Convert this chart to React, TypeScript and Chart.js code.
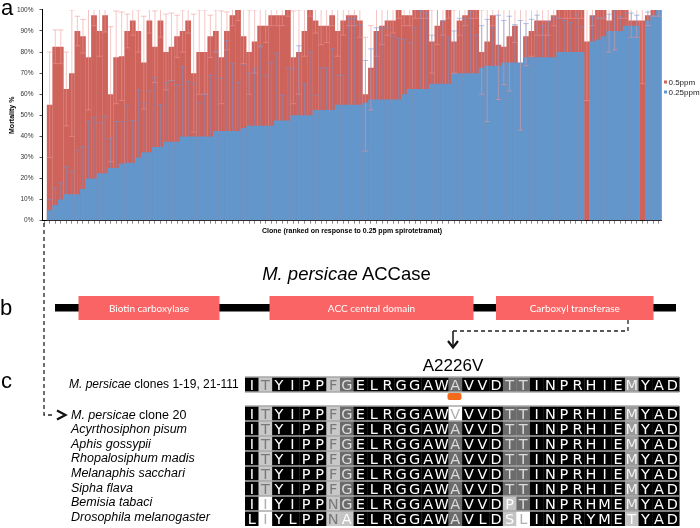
import React, { useEffect, useRef } from 'react';
import { Chart, registerables } from 'chart.js';

Chart.register(...registerables);

// ---------- DATA ----------
// clone rank (1..111), ranked on response to 0.25 ppm
const cloneRank: number[] = Array.from({ length: 111 }, (_, i) => i + 1);

// mortality % at 0.25 ppm (blue)
const mort025: number[] = [
  5, 7.5, 10, 12.5, 12.5, 12.5, 15, 20, 20, 22.5,
  22.5, 25, 25, 27, 27.5, 27.5, 30, 32.5, 32.5, 35,
  35, 37.5, 37.5, 37.5, 40, 40, 40, 40, 40, 40,
  42.5, 42.5, 42.5, 42.5, 42.5, 44, 45, 45, 45, 45,
  45, 47.5, 47.5, 47.5, 50, 50, 50, 50, 52.5, 52.5,
  52.5, 52.5, 55, 55, 55, 55, 55, 56, 57.5, 57.5,
  57.5, 57.5, 57.5, 57.5, 60, 62.5, 62.5, 62.5, 62.5, 65,
  65, 65, 65, 70, 70, 70, 70, 70, 72.5, 73.5,
  73.5, 73.5, 75, 75, 75, 75, 77.5, 77.5, 77.5, 77.5,
  77.5, 77.5, 80, 80, 80, 80, 80, 0, 85, 86,
  87.5, 90, 90, 90, 92.5, 92.5, 92.5, 0, 95, 97.5,
  100,
];

// mortality % at 0.5 ppm (red)
const mort05: number[] = [
  55, 82.5, 82.5, 62.5, 70, 90, 87.5, 77.5, 97.5, 90,
  97.5, 60, 77.5, 78, 90, 95, 90, 75, 95, 82.5,
  95, 80, 82.5, 87.5, 90, 95, 70, 80, 80, 87.5,
  90, 77.5, 90, 97.5, 100, 87.5, 80, 85, 92.5, 92.5,
  97.5, 97.5, 97.5, 100, 77.5, 80, 90, 100, 95, 92.5,
  92.5, 97.5, 90, 95, 97.5, 97.5, 95, 60, 72.5, 90,
  92.5, 95, 95, 100, 97.5, 97.5, 100, 100, 100, 85,
  92.5, 95, 100, 85, 95, 97.5, 100, 100, 80, 85,
  97.5, 83.5, 82.5, 87.5, 92.5, 74, 87.5, 90, 95, 95,
  95, 97.5, 100, 100, 100, 100, 100, 85, 97.5, 100,
  100, 95, 100, 100, 100, 95, 95, 95, 97.5, 100,
  100,
];

// error (SE) at 0.5 ppm
const err05: number[] = [
  25, 8, 8, 17.5, 30, 7, 8, 25, 5, 12,
  8, 32, 22, 21, 8, 7, 10, 22, 6, 17,
  8, 18, 16, 10, 10, 6, 28, 20, 20, 10,
  10, 22, 9, 5, 5, 13, 20, 15, 10, 8,
  5, 5, 5, 3, 22, 20, 12, 3, 6, 9,
  8, 5, 12, 7, 5, 5, 8, 27, 20, 12,
  9, 7, 6, 4, 5, 5, 4, 4, 4, 15,
  9, 7, 4, 15, 7, 5, 4, 4, 20, 38,
  5, 26, 18, 26, 8, 31, 14, 12, 7, 7,
  7, 5, 4, 4, 4, 4, 4, 28, 5, 4,
  4, 15, 19, 4, 4, 8, 8, 30, 5, 3,
  3,
];

// error (SE) at 0.25 ppm
const err025: number[] = [
  5, 8, 8, 13, 11, 21, 20, 27, 29, 24,
  27, 14, 22, 20, 27, 20, 32, 23, 29, 33,
  20, 28, 29, 27, 33, 26, 25, 16, 20, 29,
  38, 25, 43, 32, 23, 30, 25, 27, 38, 24,
  30, 32, 12, 25, 22, 33, 15, 30, 7, 20,
  20, 29, 14, 14, 41, 41, 38, 20, 24, 34,
  34, 34, 30, 29, 26, 22, 29, 37, 36, 23,
  36, 30, 22, 20, 26, 26, 29, 18, 20, 22,
  18, 24, 20, 22, 18, 20, 16, 18, 20, 15,
  17, 19, 16, 15, 14, 18, 12, 0, 12, 10,
  9, 8, 10, 7, 6, 6, 5, 0, 4, 3,
  0,
];

const seriesLabels = ['0.5ppm', '0.25ppm'];
const yTickValues: number[] = [0, 10, 20, 30, 40, 50, 60, 70, 80, 90, 100];

// Panel b: domains
const domainNames = ['Biotin carboxylase', 'ACC central domain', 'Carboxyl transferase'];

// Panel c: alignment
const speciesNames: { italic: string; rest: string }[] = [
  { italic: 'M. persicae', rest: ' clone 20' },
  { italic: 'Acyrthosiphon pisum', rest: '' },
  { italic: 'Aphis gossypii', rest: '' },
  { italic: 'Rhopalosiphum madis', rest: '' },
  { italic: 'Melanaphis sacchari', rest: '' },
  { italic: 'Sipha flava', rest: '' },
  { italic: 'Bemisia tabaci', rest: '' },
  { italic: 'Drosophila melanogaster', rest: '' },
];
const refSeq = 'ITYIPPFGELRGGAWAVVDTTINPRHIEMYAD';
const refShade = 'klkkkkldkkkkkkkdkkkddkkkkkkkmkkk';
const seqs: string[] = [
  'ITYIPPFGELRGGAWVVVDTTINPRHIEMYAD',
  'ITYIPPFGELRGGAWAVVDTTINPRHIEMYAD',
  'ITYIPPFGELRGGAWAVVDTTINPRHIEMYAD',
  'ITYIPPFGELRGGAWAVVDTTINPRHIEMYAD',
  'ITYIPPFGELRGGAWAVVDTTINPRHIEMYAD',
  'ITYIPPFGELRGGAWAVVDTTINPRHIEMYAD',
  'IIYIPPNGELRGGAWAVVDPTINPRHMEMYAD',
  'LIYLPPNAELRGGAWAVLDSLINPRYMETYAD',
];
const shades: string[] = [
  'klkkkkldkkkkkkkwkkkddkkkkkkkmkkk',
  'klkkkkldkkkkkkkdkkkddkkkkkkkmkkk',
  'klkkkkldkkkkkkkdkkkddkkkkkkkmkkk',
  'klkkkkldkkkkkkkdkkkddkkkkkkkmkkk',
  'klkkkkldkkkkkkkdkkkddkkkkkkkmkkk',
  'klkkkkldkkkkkkkdkkkddkkkkkkkmkkk',
  'kwkkkkldkkkkkkkdkkkLdkkkkkkkmkkk',
  'kwkkkklLkkkkkkkdkkkLwkkkkkkkLkkk',
];

// ---------- STYLE ----------
const RED = '#ce635c';
const BLUE = '#6396cb';
const FONT = "'Liberation Sans', Arial, Helvetica, sans-serif";
const SEQFONT = "'DejaVu Sans', Verdana, sans-serif";
const shadeStyle: Record<string, { bg: string; fg: string }> = {
  k: { bg: '#000000', fg: '#ffffff' },
  d: { bg: '#6b6b6b', fg: '#dcdcdc' },
  m: { bg: '#9a9a9a', fg: '#f2f2f2' },
  l: { bg: '#c8c8c8', fg: '#7a7a7a' },
  L: { bg: '#c4c4c4', fg: '#ffffff' },
  w: { bg: '#ffffff', fg: '#b0b0b0' },
};

const errorBarPlugin = {
  id: 'errorBars',
  afterDatasetsDraw(chart: any) {
    const { ctx, chartArea, scales } = chart;
    const xs = scales.x;
    const ys = scales.y;
    ctx.save();
    ctx.beginPath();
    ctx.rect(chartArea.left, chartArea.top, chartArea.right - chartArea.left, chartArea.bottom - chartArea.top);
    ctx.clip();
    ctx.lineWidth = 1;
    const cap = 2.8;
    // 0.5 ppm (both directions)
    ctx.strokeStyle = 'rgba(238,150,150,0.55)';
    mort05.forEach((v, i) => {
      const e = err05[i];
      if (!e) return;
      const px = xs.getPixelForValue(cloneRank[i]);
      const yt = ys.getPixelForValue(v + e);
      const yb = ys.getPixelForValue(Math.max(0, v - e));
      ctx.beginPath();
      ctx.moveTo(px, yt); ctx.lineTo(px, yb);
      ctx.moveTo(px - cap, yt); ctx.lineTo(px + cap, yt);
      ctx.moveTo(px - cap, yb); ctx.lineTo(px + cap, yb);
      ctx.stroke();
    });
    // 0.25 ppm (plus)
    ctx.strokeStyle = 'rgba(110,150,212,0.55)';
    mort025.forEach((v, i) => {
      const e = err025[i];
      if (!e) return;
      const px = xs.getPixelForValue(cloneRank[i]);
      const yt = ys.getPixelForValue(v + e);
      const yb = ys.getPixelForValue(v);
      ctx.beginPath();
      ctx.moveTo(px, yt); ctx.lineTo(px, yb);
      ctx.moveTo(px - cap, yt); ctx.lineTo(px + cap, yt);
      ctx.stroke();
    });
    ctx.restore();
  },
};

export default function App() {
  const ref = useRef<HTMLCanvasElement>(null);

  useEffect(() => {
    if (!ref.current) return;
    const chart = new Chart(ref.current, {
      type: 'bar',
      data: {
        datasets: [
          {
            label: seriesLabels[1],
            data: cloneRank.map((c, i) => ({ x: c, y: mort025[i] })),
            backgroundColor: BLUE,
            borderWidth: 0,
            grouped: false,
            categoryPercentage: 1,
            barPercentage: 1.04,
            order: 1,
          } as any,
          {
            label: seriesLabels[0],
            data: cloneRank.map((c, i) => ({ x: c, y: mort05[i] })),
            backgroundColor: RED,
            borderWidth: 0,
            grouped: false,
            categoryPercentage: 1,
            barPercentage: 1.04,
            order: 2,
          } as any,
        ],
      },
      options: {
        animation: false,
        responsive: false,
        maintainAspectRatio: false,
        layout: { padding: { top: 3, right: 38.3, left: 0, bottom: 0 } },
        plugins: { legend: { display: false }, tooltip: { enabled: false } },
        scales: {
          x: {
            type: 'linear',
            min: 0.5 - 0.8,
            max: cloneRank.length + 0.5,
            offset: false,
            afterBuildTicks: (s: any) => {
              s.ticks = [0, ...cloneRank].map((v) => ({ value: v + 0.5 }));
            },
            afterFit: (s: any) => { s.height = 19.3; },
            ticks: { autoSkip: false, maxRotation: 0, callback: () => '', font: { size: 1 } },
            grid: { drawOnChartArea: false, drawTicks: true, tickLength: 3, color: '#555', lineWidth: 0.7 },
            border: { display: true, color: '#000', width: 1 },
            title: {
              display: true,
              text: 'Clone (ranked on response to 0.25 ppm spirotetramat)',
              font: { family: FONT, size: 7, weight: 'bold' },
              color: '#000',
              padding: { top: 0, bottom: 4.8 },
            },
          } as any,
          y: {
            min: 0,
            max: 100,
            afterBuildTicks: (s: any) => { s.ticks = yTickValues.map((v) => ({ value: v })); },
            afterFit: (s: any) => { s.width = 42.5; },
            ticks: { callback: (v: any) => v + '%', font: { family: FONT, size: 6.5 }, color: '#333', padding: 6 },
            grid: { drawOnChartArea: false, drawTicks: true, tickLength: 3, color: '#555' },
            border: { display: true, color: '#000', width: 1 },
            title: {
              display: true,
              text: 'Mortality %',
              font: { family: FONT, size: 7, weight: 'bold' },
              color: '#000',
              padding: { top: 8, bottom: 0 },
            },
          } as any,
        },
      },
      plugins: [errorBarPlugin],
    } as any);
    return () => chart.destroy();
  }, []);

  // alignment geometry
  const x0 = 245;
  const cw = 13.57;
  const rh = 15;
  const row0Top = 377;
  const rowsTop = 406;
  const blockW = cw * refSeq.length;

  const renderRow = (seq: string, shade: string, top: number, key: string) => (
    <g key={key}>
      {seq.split('').map((ch, c) => {
        const st = shadeStyle[shade[c]];
        return (
          <g key={c}>
            <rect x={x0 + c * cw} y={top} width={cw + 0.3} height={rh} fill={st.bg} />
            <text x={x0 + c * cw + cw / 2} y={top + 12.8} fontSize={14.5} fontFamily={SEQFONT} fill={st.fg} textAnchor="middle">{ch}</text>
          </g>
        );
      })}
    </g>
  );

  const domains = [
    { x0: 78.5, x1: 219.5 },
    { x0: 269.5, x1: 473.5 },
    { x0: 496, x1: 653.5 },
  ];

  return (
    <div style={{ position: 'absolute', left: 0, top: 0, width: 700, height: 528, background: '#fff', overflow: 'hidden' }}>
      <canvas ref={ref} width={700} height={240} style={{ position: 'absolute', left: 0, top: 0, width: 700, height: 240 }} />
      <svg width={700} height={528} style={{ position: 'absolute', left: 0, top: 0 }}>
        {/* panel labels */}
        <text x={1} y={15} fontSize={22} fontFamily={FONT} fill="#000">a</text>
        <text x={0} y={315} fontSize={22} fontFamily={FONT} fill="#000">b</text>
        <text x={1} y={388} fontSize={22} fontFamily={FONT} fill="#000">c</text>

        {/* legend */}
        <rect x={664} y={80.5} width={3} height={3} fill={RED} />
        <text x={668.5} y={85} fontSize={8} fontFamily={FONT} fill="#222">{seriesLabels[0]}</text>
        <rect x={664} y={90.5} width={3} height={3} fill={BLUE} />
        <text x={668.5} y={95} fontSize={8} fontFamily={FONT} fill="#222">{seriesLabels[1]}</text>

        {/* title */}
        <text x={346.5} y={280} fontSize={18.5} fontFamily={FONT} textAnchor="middle" fill="#000">
          <tspan fontStyle="italic">M. persicae</tspan>
          <tspan> ACCase</tspan>
        </text>

        {/* domain diagram */}
        <rect x={55} y={304} width={621} height={7.5} fill="#000" />
        {domains.map((d, i) => (
          <g key={i}>
            <rect x={d.x0} y={296} width={d.x1 - d.x0} height={24} fill="#fa6464" />
            <text x={(d.x0 + d.x1) / 2} y={311.5} fontSize={10} fontFamily="Lato, 'Open Sans', sans-serif" fill="#fff" textAnchor="middle">{domainNames[i]}</text>
          </g>
        ))}

        {/* dashed connectors */}
        <path d="M44 223 V415 H55" fill="none" stroke="#222" strokeWidth={1.3} strokeDasharray="4 3" />
        <polyline points="57,410.5 65.5,415 57,419.5" fill="none" stroke="#111" strokeWidth={2.2} />
        <path d="M628 320 V331 H453" fill="none" stroke="#222" strokeWidth={1.3} strokeDasharray="4 3" />
        <path d="M453 331 V347" fill="none" stroke="#111" strokeWidth={1.5} />
        <polyline points="448,341 453,347.5 458,341" fill="none" stroke="#111" strokeWidth={2.2} />
        <text x={453} y={370.5} fontSize={17} fontFamily={FONT} textAnchor="middle" fill="#000">A2226V</text>

        {/* alignment names */}
        <text x={69} y={387.5} fontSize={12} fontFamily={FONT} fill="#000">
          <tspan fontStyle="italic">M. persicae</tspan>
          <tspan> clones 1-19, 21-111</tspan>
        </text>
        {speciesNames.map((n, i) => (
          <text key={i} x={71} y={418.5 + i * 14.6} fontSize={12.5} fontFamily={FONT} fill="#000">
            <tspan fontStyle="italic">{n.italic}</tspan>
            {n.rest ? <tspan>{n.rest}</tspan> : null}
          </text>
        ))}

        {/* alignment */}
        {renderRow(refSeq, refShade, row0Top, 'ref')}
        {seqs.map((s, r) => renderRow(s, shades[r], rowsTop + r * rh, 'r' + r))}
        {[row0Top, row0Top + rh].map((y, i) => (
          <line key={'s0' + i} x1={x0} x2={x0 + blockW} y1={y} y2={y} stroke="#a8a8a8" strokeWidth={1.3} />
        ))}
        {seqs.map((_, r) => (
          <line key={'s' + r} x1={x0} x2={x0 + blockW} y1={rowsTop + r * rh} y2={rowsTop + r * rh} stroke="#a8a8a8" strokeWidth={1.3} />
        ))}
        <rect x={447.5} y={393} width={14} height={7} rx={2} fill="#f26a1b" />
      </svg>
    </div>
  );
}
